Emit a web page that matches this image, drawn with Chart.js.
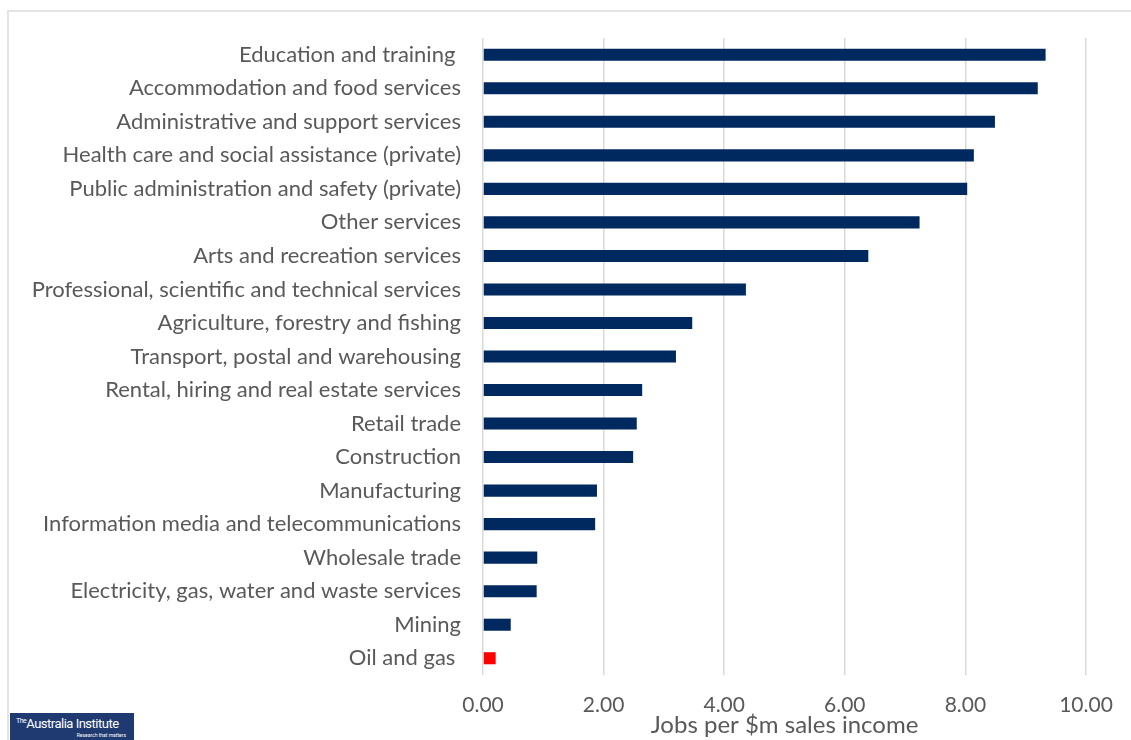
<!DOCTYPE html>
<html>
<head>
<meta charset="utf-8">
<script src="https://cdn.jsdelivr.net/npm/chart.js@4/dist/chart.umd.min.js"></script>
<style>
    html, body { margin: 0; padding: 0; background: #ffffff; }
    body { width: 1131px; height: 740px; position: relative; overflow: hidden; }
    .frame { position: absolute; left: 7px; top: 10px; width: 1140px; height: 760px; border: 2px solid #e3e3e3; box-sizing: border-box; }
    #chartBox { position: absolute; left: 0; top: 0; width: 1131px; height: 740px; }
    .logo { position: absolute; left: 10px; top: 713px; width: 124px; height: 30px; background: #1f3a70; color: #fff; font-family: "Liberation Sans Narrow", "Roboto", sans-serif; }
    .logo .name { position: absolute; left: 6px; top: 3px; font-size: 13px; letter-spacing: -0.5px; white-space: nowrap; }
    .logo .name sup { font-size: 7px; vertical-align: 5px; }
    .logo .tag { position: absolute; right: 8px; top: 19px; font-size: 5px; white-space: nowrap; }
</style>
</head>
<body>
<div class="frame"></div>
<div id="chartBox"><canvas id="jobsChart" width="1131" height="740"></canvas></div>
<div class="logo"><span class="name"><sup>The</sup>Australia Institute</span><span class="tag">Research that matters</span></div>
<script>
// 産業別データ（上から順）
const industries = [
    'Education and training ',
    'Accommodation and food services',
    'Administrative and support services',
    'Health care and social assistance (private)',
    'Public administration and safety (private)',
    'Other services',
    'Arts and recreation services',
    'Professional, scientific and technical services',
    'Agriculture, forestry and fishing',
    'Transport, postal and warehousing',
    'Rental, hiring and real estate services',
    'Retail trade',
    'Construction',
    'Manufacturing',
    'Information media and telecommunications',
    'Wholesale trade',
    'Electricity, gas, water and waste services',
    'Mining',
    'Oil and gas '
];
const jobsPerMillion = [9.33, 9.20, 8.49, 8.14, 8.03, 7.24, 6.39, 4.36, 3.47, 3.20, 2.64, 2.55, 2.49, 1.89, 1.86, 0.90, 0.89, 0.46, 0.21];
const xTicks = [0, 2, 4, 6, 8, 10];
const axisTitle = 'Jobs per $m sales income';

const NAVY = '#00295f';
const RED = '#ff0000';
const GREY_TEXT = '#595959';
const GRID = '#d9d9d9';
const FONT = 'Lato, "Open Sans", sans-serif';

document.addEventListener('DOMContentLoaded', function() {
    'use strict';
    const ctx = document.getElementById('jobsChart').getContext('2d');
    const barColors = industries.map(name => name.trim() === 'Oil and gas' ? RED : NAVY);

    new Chart(ctx, {
        type: 'bar',
        data: {
            labels: industries,
            datasets: [{
                data: jobsPerMillion,
                backgroundColor: barColors,
                borderWidth: 0,
                barPercentage: 0.72,
                categoryPercentage: 0.5
            }]
        },
        options: {
            indexAxis: 'y',
            responsive: false,
            animation: false,
            layout: { padding: { top: 38, right: 45, left: 0, bottom: 0 } },
            plugins: {
                legend: { display: false },
                tooltip: { enabled: false }
            },
            scales: {
                x: {
                    min: 0,
                    max: 10,
                    afterBuildTicks: function(scale) {
                        scale.ticks = xTicks.map(v => ({ value: v }));
                    },
                    afterFit: function(scale) { scale.height = 65; },
                    border: { display: false },
                    grid: { color: GRID, lineWidth: 1.5, drawTicks: false },
                    ticks: {
                        padding: 18,
                        color: GREY_TEXT,
                        font: { family: FONT, size: 21 },
                        callback: function(value) { return Number(value).toFixed(2); }
                    },
                    title: {
                        display: true,
                        text: axisTitle,
                        color: GREY_TEXT,
                        font: { family: FONT, size: 24 },
                        padding: { top: 0, bottom: 0 }
                    }
                },
                y: {
                    afterFit: function(scale) { scale.width = 483; },
                    border: { display: false },
                    grid: { display: false, drawTicks: false },
                    ticks: {
                        padding: 22,
                        color: GREY_TEXT,
                        autoSkip: false,
                        font: { family: FONT, size: 22 }
                    }
                }
            }
        }
    });
});
</script>
</body>
</html>
